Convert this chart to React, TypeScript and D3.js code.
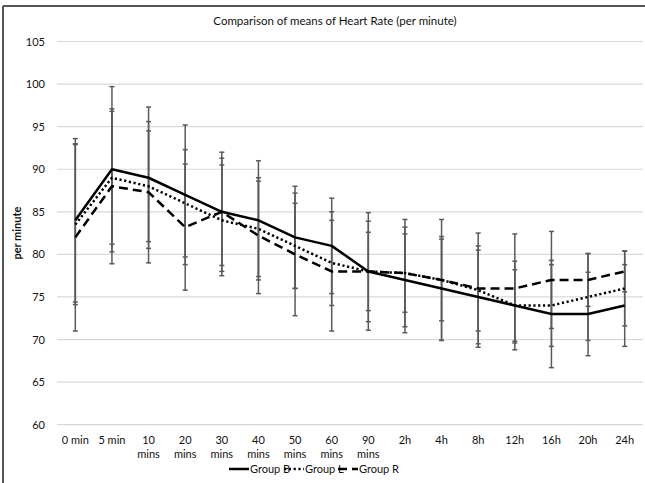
import React from "react";
import * as d3 from "d3";

const categories = ["0 min", "5 min", "10 mins", "20 mins", "30 mins", "40 mins", "50 mins", "60 mins", "90 mins", "2h", "4h", "8h", "12h", "16h", "20h", "24h"];
const groupB = [84, 90, 89, 87, 85, 84, 82, 81, 78, 77, 76, 75, 74, 73, 73, 74];
const groupL = [83.5, 89, 88, 86, 84, 83, 81, 79, 78, 77.8, 77, 75.8, 74, 74, 75, 76];
const groupR = [82, 88, 87.3, 83.2, 85, 82.2, 80, 78, 78, 77.8, 77, 76, 76, 77, 77, 78];
const sdB = [9.6, 9.7, 8.3, 8.2, 7.0, 7.0, 6.0, 5.6, 4.6, 6.2, 6.1, 5.5, 5.2, 6.3, 4.9, 4.8];
const sdL = [9.4, 7.8, 6.5, 6.3, 6.5, 5.6, 5.0, 5.0, 5.9, 6.3, 7.1, 6.7, 4.2, 4.8, 5.1, 4.4];
const sdR = [11.0, 9.1, 8.3, 7.4, 6.3, 6.8, 7.2, 7.0, 6.9, 4.6, 4.8, 5.0, 6.4, 5.7, 3.1, 2.4];
const yTicks = [60, 65, 70, 75, 80, 85, 90, 95, 100, 105];
const seriesNames = ["Group B", "Group L", "Group R"];

const W = 645, H = 483;
const left = 57, right = 643, top = 41.5, bottom = 424.7;
const font = "Lato, 'Open Sans', sans-serif";

export default function App() {
  const x = d3.scalePoint<string>().domain(categories).range([left, right]).padding(0.5);
  const y = d3.scaleLinear().domain([60, 105]).range([bottom, top]);
  const series = [
    { name: seriesNames[0], vals: groupB, sd: sdB, dash: "none" },
    { name: seriesNames[1], vals: groupL, sd: sdL, dash: "2.2,2.6" },
    { name: seriesNames[2], vals: groupR, sd: sdR, dash: "9,5" },
  ];
  const line = d3.line<number>().x((_, i) => x(categories[i])!).y((d) => y(d));
  const legendItems = [
    { name: seriesNames[0], dash: "none", x0: 229 },
    { name: seriesNames[1], dash: "2.2,2.6", x0: 284 },
    { name: seriesNames[2], dash: "9,5", x0: 338 },
  ];
  return (
    <svg width={W} height={H} style={{ position: "absolute", left: 0, top: 0, background: "#fff" }} fontFamily={font}>
      <rect x={0} y={0} width={W} height={H} fill="#fff" />
      <line x1={3} x2={3} y1={6} y2={H} stroke="#555" strokeWidth={2} />
      <line x1={3} x2={W} y1={6} y2={6} stroke="#555" strokeWidth={2} />
      <text x={335} y={25} textAnchor="middle" fontSize={11.5} fill="#111">Comparison of means of Heart Rate (per minute)</text>
      {yTicks.map((t) => (
        <g key={t}>
          <line x1={left} x2={right} y1={y(t)} y2={y(t)} stroke="#d9d9d9" strokeWidth={1.2} />
          <text x={45} y={y(t) + 4} textAnchor="end" fontSize={11} fill="#111">{t}</text>
        </g>
      ))}
      <text transform={`translate(21,${(top + bottom) / 2}) rotate(-90)`} textAnchor="middle" fontSize={11} fontWeight="bold" fill="#111">per minute</text>
      {categories.map((c) => {
        const parts = c.split(" ");
        const two = parts[1] === "mins";
        return (
          <text key={c} x={x(c)} y={444} textAnchor="middle" fontSize={11} fill="#111">
            {two ? (
              <>
                <tspan x={x(c)}>{parts[0]}</tspan>
                <tspan x={x(c)} dy={13.5}>{parts[1]}</tspan>
              </>
            ) : c}
          </text>
        );
      })}
      {series.map((s) => (
        <g key={s.name + "err"}>
          {s.vals.map((v, i) => {
            const cx = x(categories[i])!;
            const y1 = y(v + s.sd[i]);
            const y2 = y(v - s.sd[i]);
            return (
              <g key={i} stroke="#5a5a5a" strokeWidth={1.5}>
                <line x1={cx} x2={cx} y1={y1} y2={y2} />
                <line x1={cx - 2.5} x2={cx + 2.5} y1={y1} y2={y1} />
                <line x1={cx - 2.5} x2={cx + 2.5} y1={y2} y2={y2} />
              </g>
            );
          })}
        </g>
      ))}
      {series.map((s) => (
        <path key={s.name} d={line(s.vals)!} fill="none" stroke="#000" strokeWidth={2.5} strokeDasharray={s.dash} strokeLinejoin="round" />
      ))}
      {legendItems.map((l) => (
        <g key={l.name}>
          <line x1={l.x0} x2={l.x0 + 20} y1={469} y2={469} stroke="#000" strokeWidth={2.5} strokeDasharray={l.dash} />
          <text x={l.x0 + 21} y={473} fontSize={11} fill="#111">{l.name}</text>
        </g>
      ))}
    </svg>
  );
}
